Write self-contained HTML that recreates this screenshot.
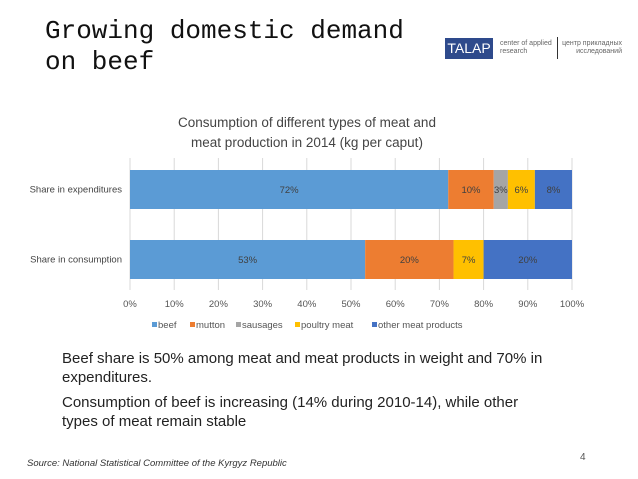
<!DOCTYPE html>
<html><head><meta charset="utf-8"><style>
body{margin:0;width:638px;height:479px;background:#fff;position:relative;overflow:hidden;font-family:"Liberation Sans",sans-serif}
.abs{position:absolute}
</style></head><body>
<div class="abs" style="left:45px;top:16px;font-family:'Liberation Mono',monospace;font-size:26px;line-height:31px;color:#111">Growing domestic demand<br>on beef</div>
<div class="abs" style="left:445px;top:38px;width:48px;height:21px;background:#2e4a8c;color:#fff;font-size:14px;line-height:21px;text-align:center">TALAP</div>
<div class="abs" style="left:500px;top:40px;font-size:7px;color:#666;line-height:8px">center of applied<br>research</div>
<div class="abs" style="left:557px;top:37px;width:1px;height:22px;background:#333"></div>
<div class="abs" style="left:560px;top:40px;font-size:7px;color:#666;line-height:8px;text-align:right;width:62px;white-space:nowrap">центр прикладных<br>исследований</div>
<svg class="abs" style="left:0;top:0" width="638" height="479">
<g id="chart"></g>
</svg>
<div class="abs" style="left:62px;top:349px;font-size:15px;line-height:19px;color:#222;width:520px">Beef share is 50% among meat and meat products in weight and 70% in expenditures.</div>
<div class="abs" style="left:62px;top:393px;font-size:15px;line-height:19px;color:#222;width:490px">Consumption of beef is increasing (14% during 2010-14), while other types of meat remain stable</div>
<div class="abs" style="left:27px;top:458px;font-size:9.5px;font-style:italic;color:#333">Source: National Statistical Committee of the Kyrgyz Republic</div>
<div class="abs" style="left:580px;top:452px;font-size:10px;color:#555">4</div>
<script>
const categories=["Share in expenditures","Share in consumption"];
const seriesNames=["beef","mutton","sausages","poultry meat","other meat products"];
const seriesValues=[[72,53.2],[10.3,20],[3.2,0],[6.1,6.8],[8.4,20]];
const tickLabels=["0%","10%","20%","30%","40%","50%","60%","70%","80%","90%","100%"];
const colors=["#5b9bd5","#ed7d31","#a5a5a5","#ffc000","#4472c4"];
const NS="http://www.w3.org/2000/svg";
const g=document.getElementById("chart");
const x0=130,x1=572;
const xs=v=>x0+(x1-x0)*v/100;
const rowY=[170,240],barH=39;
function mk(t,a){const e=document.createElementNS(NS,t);for(const k in a)e.setAttribute(k,a[k]);g.appendChild(e);return e;}
let t=mk("text",{x:307,y:127,"text-anchor":"middle","font-size":"13.5","fill":"#444"});t.textContent="Consumption of different types of meat and";


t=mk("text",{x:307,y:147,"text-anchor":"middle","font-size":"13.5","fill":"#444"});t.textContent="meat production in 2014 (kg per caput)";


tickLabels.forEach((l,i)=>{const v=i*10;
 const ln=mk("line",{x1:xs(v),x2:xs(v),y1:158,y2:290,stroke:"#d9d9d9"});
 
 
 const tx=mk("text",{x:xs(v),y:307,"text-anchor":"middle","font-size":"9.5","fill":"#555"});tx.textContent=l;
 
 
});
categories.forEach((c,ci)=>{
 const tot=seriesValues.reduce((s,a)=>s+a[ci],0);
 let cum=0;
 const cl=mk("text",{x:122,y:rowY[ci]+barH/2+3,"text-anchor":"end","font-size":"9.5","fill":"#444"});cl.textContent=c;
 
 
 seriesValues.forEach((arr,si)=>{const v=arr[ci];if(!v)return;
  const p0=cum/tot*100,p1=(cum+v)/tot*100;cum+=v;
  const r=mk("rect",{x:xs(p0),y:rowY[ci],width:xs(p1)-xs(p0),height:barH,fill:colors[si]});
  
  
  const lb=mk("text",{x:(xs(p0)+xs(p1))/2,y:rowY[ci]+barH/2+3.5,"text-anchor":"middle","font-size":"9.5","fill":"#404040"});lb.textContent=Math.round(v)+"%";
  
  
 });
});
const legX=[152,190,236,295,372];
seriesNames.forEach((n,i)=>{
 const r=mk("rect",{x:legX[i],y:322,width:5,height:5,fill:colors[i]});
 
 
 const tx=mk("text",{x:legX[i]+6,y:328,"font-size":"9.5","fill":"#555"});tx.textContent=n;
 
 
});
</script>
</body></html>
